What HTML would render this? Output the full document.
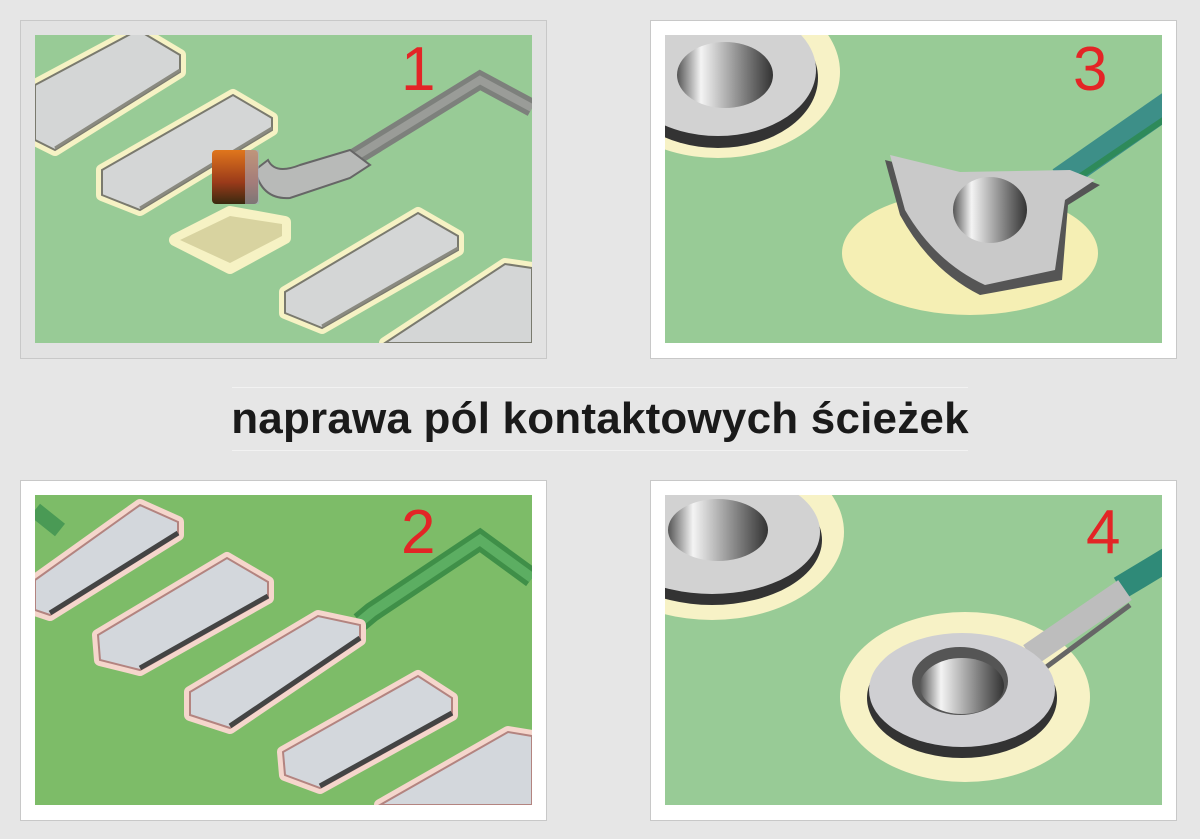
<!DOCTYPE html>
<html><head><meta charset="utf-8"><style>
html,body{margin:0;padding:0;background:#e6e6e6;}
body{width:1200px;height:839px;position:relative;overflow:hidden;font-family:"Liberation Sans",sans-serif;}
svg{position:absolute;left:0;top:0;}
.t{position:absolute;left:0;width:1200px;top:388px;text-align:center;font-size:44px;font-weight:bold;color:#1a1a1a;line-height:62px;letter-spacing:0.2px;}
</style></head><body>
<svg width="1200" height="839" viewBox="0 0 1200 839">
<defs>
<linearGradient id="hole" x1="0" x2="1" y1="0" y2="0">
<stop offset="0" stop-color="#555"/><stop offset="0.25" stop-color="#f4f4f4"/><stop offset="0.6" stop-color="#999"/><stop offset="1" stop-color="#333"/>
</linearGradient>
<linearGradient id="cap" x1="0" x2="0" y1="0" y2="1">
<stop offset="0" stop-color="#e0761c"/><stop offset="0.6" stop-color="#9a3a1a"/><stop offset="1" stop-color="#3a2a10"/>
</linearGradient>
</defs>
<rect x="20.5" y="20.5" width="526" height="338" fill="#e2e2e2" stroke="#c8c8c8"/>
<rect x="650.5" y="20.5" width="526" height="338" fill="#fff" stroke="#c8c8c8"/>
<rect x="20.5" y="480.5" width="526" height="340" fill="#fff" stroke="#c8c8c8"/>
<rect x="650.5" y="480.5" width="526" height="340" fill="#fff" stroke="#c8c8c8"/>
<line x1="232" y1="387.5" x2="968" y2="387.5" stroke="#f2f2f2"/>
<line x1="232" y1="450.5" x2="968" y2="450.5" stroke="#f2f2f2"/>

<!-- panel 1 -->
<svg x="35" y="35" width="497" height="308" viewBox="35 35 497 308">
<rect x="35" y="35" width="497" height="308" fill="#98cb96"/>
<g stroke="#f6f2c4" stroke-width="12" stroke-linejoin="round" fill="#f6f2c4">
<polygon points="35,85 138,30 180,55 180,72 55,150 35,140"/>
<polygon points="102,170 233,95 272,118 272,130 140,210 102,195"/>
<polygon points="285,292 418,213 458,236 458,250 322,328 285,313"/>
<polygon points="385,343 505,264 532,268 532,343"/>
<polygon points="175,240 230,212 285,222 285,238 230,268"/>
</g>
<g stroke="#7a7a6e" stroke-width="2" fill="#d4d6d6">
<polygon points="35,85 138,30 180,55 180,72 55,150 35,140"/>
<polygon points="102,170 233,95 272,118 272,130 140,210 102,195"/>
<polygon points="285,292 418,213 458,236 458,250 322,328 285,313"/>
<polygon points="385,343 505,264 532,268 532,343"/>
</g>
<g stroke="#8a8a80" stroke-width="3" fill="none">
<polyline points="55,148 180,70"/><polyline points="140,208 272,128"/><polyline points="322,326 458,248"/>
</g>
<polygon points="180,240 230,216 282,224 282,236 230,263" fill="#d8d3a0"/>
<polyline points="355,157 480,80 532,108" fill="none" stroke="#7d807c" stroke-width="18" stroke-linejoin="miter"/>
<polyline points="355,157 480,80 532,108" fill="none" stroke="#9a9c98" stroke-width="8"/>
<path d="M255,170 Q262,200 290,198 L350,178 L370,165 L350,150 L300,165 Q275,175 268,160 Z" fill="#b8bab8" stroke="#666" stroke-width="2"/>
<rect x="212" y="150" width="46" height="54" rx="4" fill="url(#cap)"/>
<rect x="245" y="150" width="14" height="54" fill="#aab" opacity="0.6"/>
<text x="401" y="90" font-family="Liberation Sans" font-size="62" fill="#e32526">1</text>
</svg>

<!-- panel 2 -->
<svg x="35" y="495" width="497" height="310" viewBox="35 495 497 310">
<rect x="35" y="495" width="497" height="310" fill="#7dbc68"/>
<polyline points="35,510 60,530" fill="none" stroke="#4a9a55" stroke-width="16"/>
<polyline points="360,622 372,612 480,540 532,578" fill="none" stroke="#3f8f48" stroke-width="20"/>
<polyline points="360,622 372,612 480,540 532,578" fill="none" stroke="#5cae62" stroke-width="10"/>
<g stroke="#f5d6cc" stroke-width="12" stroke-linejoin="round" fill="#f5d6cc">
<polygon points="35,580 140,505 178,522 178,535 50,615 35,610"/>
<polygon points="98,635 227,558 268,582 268,598 140,670 100,660"/>
<polygon points="190,692 318,616 360,625 360,640 230,728 190,715"/>
<polygon points="283,752 418,676 452,698 452,715 320,788 285,775"/>
<polygon points="380,805 508,732 532,736 532,805"/>
</g>
<g stroke="#b38480" stroke-width="2" fill="#d3d7dc">
<polygon points="35,580 140,505 178,522 178,535 50,615 35,610"/>
<polygon points="98,635 227,558 268,582 268,598 140,670 100,660"/>
<polygon points="190,692 318,616 360,625 360,640 230,728 190,715"/>
<polygon points="283,752 418,676 452,698 452,715 320,788 285,775"/>
<polygon points="380,805 508,732 532,736 532,805"/>
</g>
<g stroke="#444" stroke-width="5" fill="none">
<polyline points="50,613 178,533"/><polyline points="140,668 268,596"/><polyline points="230,726 360,638"/><polyline points="320,786 452,713"/>
</g>
<text x="401" y="553" font-family="Liberation Sans" font-size="62" fill="#e32526">2</text>
</svg>

<!-- panel 3 -->
<svg x="665" y="35" width="497" height="308" viewBox="665 35 497 308">
<rect x="665" y="35" width="497" height="308" fill="#98cb96"/>
<ellipse cx="718" cy="72" rx="122" ry="86" fill="#f7f2c6"/>
<ellipse cx="718" cy="78" rx="100" ry="70" fill="#333"/>
<ellipse cx="718" cy="70" rx="98" ry="66" fill="#d2d2d2"/>
<ellipse cx="725" cy="75" rx="48" ry="33" fill="url(#hole)"/>
<ellipse cx="970" cy="253" rx="128" ry="62" fill="#f5efb4"/>
<line x1="1060" y1="180" x2="1175" y2="100" stroke="#3d8f88" stroke-width="26"/>
<line x1="1060" y1="190" x2="1175" y2="112" stroke="#2e8a5a" stroke-width="6"/>
<path d="M885,160 L960,178 L1075,175 L1100,185 L1068,205 L1062,280 L980,295 Q930,270 900,215 Z" fill="#555"/>
<path d="M890,155 L960,172 L1070,170 L1095,180 L1065,200 L1055,270 L985,285 Q935,262 905,210 Z" fill="#c9c9c9"/>
<ellipse cx="990" cy="210" rx="37" ry="33" fill="url(#hole)"/>
<text x="1073" y="90" font-family="Liberation Sans" font-size="62" fill="#e32526">3</text>
</svg>

<!-- panel 4 -->
<svg x="665" y="495" width="497" height="310" viewBox="665 495 497 310">
<rect x="665" y="495" width="497" height="310" fill="#98cb96"/>
<ellipse cx="712" cy="532" rx="132" ry="88" fill="#f7f2c6"/>
<ellipse cx="712" cy="540" rx="110" ry="65" fill="#333"/>
<ellipse cx="712" cy="532" rx="108" ry="62" fill="#d2d2d2"/>
<ellipse cx="718" cy="530" rx="50" ry="31" fill="url(#hole)"/>
<ellipse cx="965" cy="697" rx="125" ry="85" fill="#f7f2c6"/>
<line x1="1120" y1="588" x2="1175" y2="555" stroke="#2f8a78" stroke-width="24"/>
<line x1="1030" y1="655" x2="1125" y2="590" stroke="#bdbdbd" stroke-width="24"/>
<line x1="1045" y1="668" x2="1130" y2="605" stroke="#666" stroke-width="5"/>
<ellipse cx="962" cy="698" rx="95" ry="60" fill="#333"/>
<ellipse cx="962" cy="690" rx="93" ry="57" fill="#cfcfd2"/>
<ellipse cx="960" cy="681" rx="48" ry="34" fill="#555"/>
<ellipse cx="962" cy="686" rx="42" ry="28" fill="url(#hole)"/>
<text x="1086" y="553" font-family="Liberation Sans" font-size="62" fill="#e32526">4</text>
</svg>
</svg>
<div class="t">naprawa pól kontaktowych ścieżek</div>
</body></html>
